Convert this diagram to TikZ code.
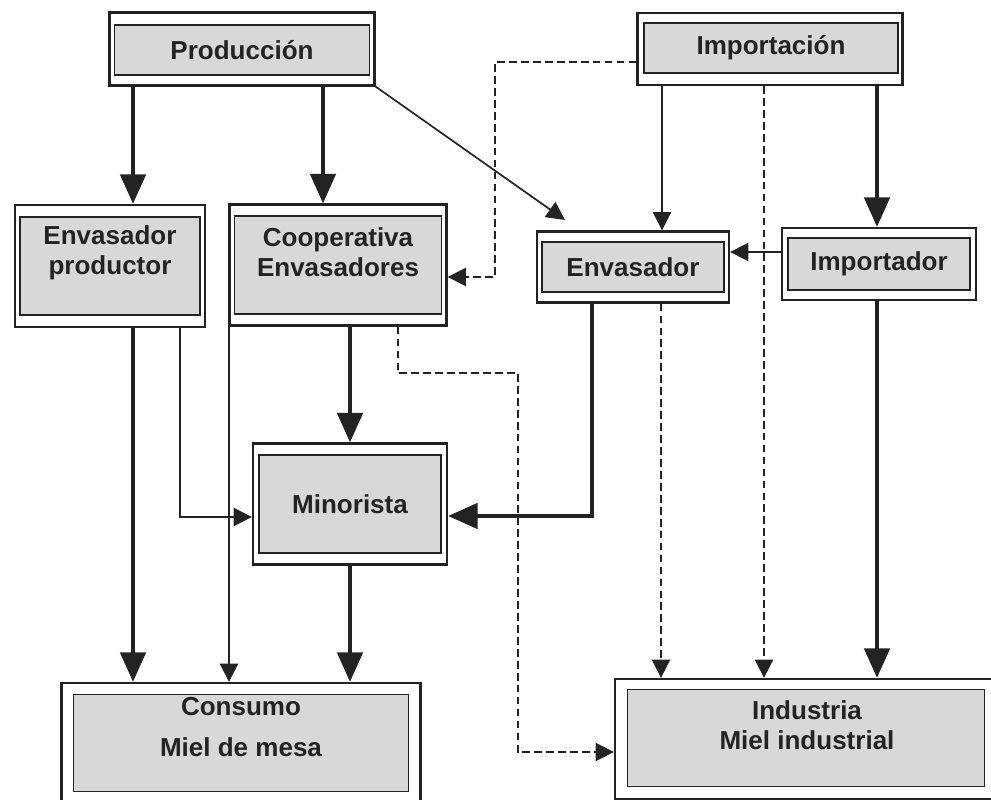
\documentclass[tikz,border=0pt]{standalone}
\usepackage{fontspec}
\setmainfont{Liberation Sans}
\usetikzlibrary{arrows.meta}
\definecolor{tinta}{RGB}{35,35,35}
\definecolor{gris}{RGB}{216,216,216}

\begin{document}
\begin{tikzpicture}[x=0.025cm,y=-0.025cm,
    caja/.style={draw=tinta,line width=1.6pt,fill=white,inner sep=0pt},
    relleno/.style={draw=tinta,line width=1.3pt,fill=gris,inner sep=0pt,text=tinta,
      font=\bfseries\fontsize{18.5}{21.5}\selectfont},
    texto/.style={align=center,inner sep=0pt,text=tinta,
      font=\bfseries\fontsize{18.5}{21.5}\selectfont},
    gruesa/.style={draw=tinta,line width=2.8pt,-{Triangle[length=21pt,width=18pt]}},
    fina/.style={draw=tinta,line width=1.2pt,-{Triangle[length=13pt,width=13pt]}},
    discontinua/.style={fina,dash pattern=on 5.5pt off 3pt}]
  \useasboundingbox (0,0) rectangle (991,800);

  % top row
  \node[caja,minimum width=6.625cm,minimum height=1.825cm] (prod) at (242,49) {};
  \node[relleno,minimum width=6.375cm,minimum height=1.25cm] (prod-t) at (242,50) {Producción};
  \node[caja,minimum width=6.625cm,minimum height=1.8cm] (impo) at (770,49) {};
  \node[relleno,minimum width=6.35cm,minimum height=1.25cm] (impo-t) at (771,48) {Importación};

  % middle row
  \node[caja,minimum width=4.75cm,minimum height=3.05cm] (envp) at (110,266) {};
  \node[relleno,minimum width=4.5cm,minimum height=2.45cm] (envp-in) at (110,266) {};
  \node[texto] (envp-t) at (110,253) {Envasador\\productor};
  \node[caja,minimum width=5.425cm,minimum height=3.025cm] (coop) at (338,265) {};
  \node[relleno,minimum width=5.175cm,minimum height=2.45cm] (coop-in) at (338,265) {};
  \node[texto] (coop-t) at (338,252) {Cooperativa\\Envasadores};
  \node[caja,minimum width=4.8cm,minimum height=1.775cm] (env) at (633,267) {};
  \node[relleno,minimum width=4.55cm,minimum height=1.25cm] (env-t) at (633,267) {Envasador};
  \node[caja,minimum width=4.85cm,minimum height=1.8cm] (impr) at (879,264) {};
  \node[relleno,minimum width=4.55cm,minimum height=1.3cm] (impr-t) at (879,264) {Importador};

  \node[caja,minimum width=4.85cm,minimum height=3.025cm] (mino) at (350,504) {};
  \node[relleno,minimum width=4.55cm,minimum height=2.45cm] (mino-t) at (350,504) {Minorista};

  % bottom row
  \node[caja,minimum width=8.975cm,minimum height=3.05cm] (cons) at (241,744) {};
  \node[relleno,minimum width=8.375cm,minimum height=2.425cm] (cons-in) at (241,743) {};
  \node[texto] (cons-t) at (241,727) {Consumo\\[7pt]Miel de mesa};
  \node[caja,minimum width=9.5cm,minimum height=3cm] (indu) at (805,739) {};
  \node[relleno,minimum width=8.925cm,minimum height=2.425cm] (indu-in) at (806,738) {};
  \node[texto] (indu-t) at (807,725) {Industria\\Miel industrial};

  % from Produccion
  \draw[gruesa] (prod.south -| 133,0) -- (envp.north -| 133,0);
  \draw[gruesa] (prod.south -| 323,0) -- (coop.north -| 323,0);
  \coordinate (diag) at (565,220);
  \draw[fina] (prod.south east) -- (diag);

  % from Importacion
  \draw[fina] (impo.south -| 662,0) -- (env.north -| 662,0);
  \draw[discontinua] (impo.south -| 764,0) -- (indu.north -| 764,0);
  \draw[gruesa] (impo.south -| 877,0) -- (impr.north -| 877,0);
  \draw[discontinua] (impo.west |- 0,62) -- (495,62) -- (495,277) -- (coop.east |- 0,277);
  \draw[fina] (impr.west |- 0,252) -- (env.east |- 0,252);

  % to Minorista and Consumo
  \draw[gruesa] (envp.south -| 133,0) -- (cons.north -| 133,0);
  \draw[fina] (envp.south -| 180,0) |- (mino.west |- 0,517);
  \draw[fina] (coop.south -| 229,0) -- (cons.north -| 229,0);
  \draw[gruesa] (coop.south -| 350,0) -- (mino.north -| 350,0);
  \draw[gruesa] (env.south -| 592,0) |- (mino.east |- 0,516);
  \draw[gruesa] (mino.south -| 350,0) -- (cons.north -| 350,0);

  % to Industria
  \draw[discontinua] (coop.south -| 398,0) -- (398,373) -- (518,373) |- (indu.west |- 0,752);
  \draw[discontinua] (env.south -| 661,0) -- (indu.north -| 661,0);
  \draw[gruesa] (impr.south -| 877,0) -- (indu.north -| 877,0);
\end{tikzpicture}
\end{document}
